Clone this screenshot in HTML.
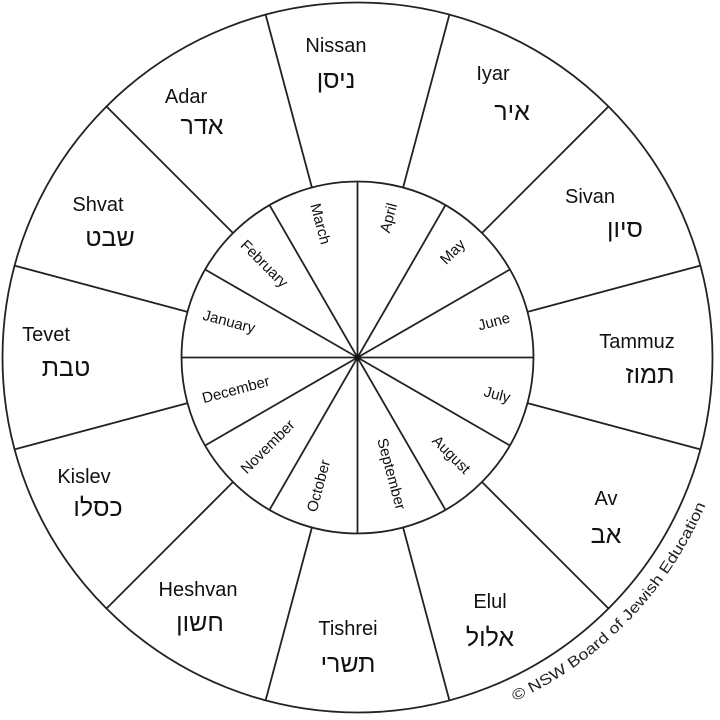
<!DOCTYPE html>
<html><head><meta charset="utf-8"><style>
html,body{margin:0;padding:0;background:#fff;}
svg{display:block}
.en{font-family:"Liberation Sans",sans-serif;font-size:20px;fill:#111;text-anchor:middle}
.he{font-family:"Liberation Sans","DejaVu Sans",sans-serif;font-size:25px;fill:#111;text-anchor:middle}
.m{font-family:"Liberation Sans",sans-serif;font-size:15px;fill:#111;text-anchor:middle;dominant-baseline:central}
</style></head><body>
<svg width="720" height="720" viewBox="0 0 720 720" xmlns="http://www.w3.org/2000/svg">
<g stroke="#222" stroke-width="1.8" fill="none">
<circle cx="357.5" cy="357.5" r="355"/>
<circle cx="357.5" cy="357.5" r="176"/>
<line x1="357.5" y1="181.5" x2="357.5" y2="533.5"/>
<line x1="181.5" y1="357.5" x2="533.5" y2="357.5"/>
<line x1="269.5" y1="205.1" x2="445.5" y2="509.9"/>
<line x1="445.5" y1="205.1" x2="269.5" y2="509.9"/>
<line x1="205.1" y1="269.5" x2="509.9" y2="445.5"/>
<line x1="509.9" y1="269.5" x2="205.1" y2="445.5"/>
<line x1="403.1" y1="187.5" x2="449.4" y2="14.6"/>
<line x1="311.9" y1="187.5" x2="265.6" y2="14.6"/>
<line x1="403.1" y1="527.5" x2="449.4" y2="700.4"/>
<line x1="311.9" y1="527.5" x2="265.6" y2="700.4"/>
<line x1="527.5" y1="311.9" x2="700.4" y2="265.6"/>
<line x1="527.5" y1="403.1" x2="700.4" y2="449.4"/>
<line x1="187.5" y1="311.9" x2="14.6" y2="265.6"/>
<line x1="187.5" y1="403.1" x2="14.6" y2="449.4"/>
<line x1="482.0" y1="233.0" x2="608.5" y2="106.5"/>
<line x1="233.0" y1="233.0" x2="106.5" y2="106.5"/>
<line x1="482.0" y1="482.0" x2="608.5" y2="608.5"/>
<line x1="233.0" y1="482.0" x2="106.5" y2="608.5"/>
</g>
<circle cx="357.5" cy="357.5" r="3" fill="#111"/>
<text class="en" x="336" y="52">Nissan</text><text class="he" x="336" y="88">ניסן</text>
<text class="en" x="493" y="80">Iyar</text><text class="he" x="512" y="120">איר</text>
<text class="en" x="590" y="203">Sivan</text><text class="he" x="625" y="237">סיון</text>
<text class="en" x="637" y="348">Tammuz</text><text class="he" x="650" y="383">תמוז</text>
<text class="en" x="606" y="505">Av</text><text class="he" x="606" y="543">אב</text>
<text class="en" x="490" y="608">Elul</text><text class="he" x="490" y="646">אלול</text>
<text class="en" x="348" y="635">Tishrei</text><text class="he" x="348" y="672">תשרי</text>
<text class="en" x="198" y="596">Heshvan</text><text class="he" x="200" y="631">חשון</text>
<text class="en" x="84" y="483">Kislev</text><text class="he" x="98" y="516">כסלו</text>
<text class="en" x="46" y="341">Tevet</text><text class="he" x="66" y="376">טבת</text>
<text class="en" x="98" y="211">Shvat</text><text class="he" x="110" y="246">שבט</text>
<text class="en" x="186" y="103">Adar</text><text class="he" x="202" y="134">אדר</text>
<text class="m" transform="translate(320,224) rotate(75)">March</text>
<text class="m" transform="translate(389,218) rotate(-75)">April</text>
<text class="m" transform="translate(453,252) rotate(-45)">May</text>
<text class="m" transform="translate(494,322) rotate(-15)">June</text>
<text class="m" transform="translate(497,395) rotate(15)">July</text>
<text class="m" transform="translate(451,455) rotate(45)">August</text>
<text class="m" transform="translate(391,474) rotate(75)">September</text>
<text class="m" transform="translate(319,486) rotate(-75)">October</text>
<text class="m" transform="translate(268,447) rotate(-45)">November</text>
<text class="m" transform="translate(236,390) rotate(-15)">December</text>
<text class="m" transform="translate(229,322) rotate(15)">January</text>
<text class="m" transform="translate(264,264) rotate(45)">February</text>
<defs><path id="arc" d="M 511.3 702.8 A 378 378 0 0 0 717.0 474.3"/></defs>
<text font-family="Liberation Sans,sans-serif" font-size="15" fill="#222"><textPath href="#arc" startOffset="4" textLength="280" lengthAdjust="spacingAndGlyphs">© NSW Board of Jewish Education</textPath></text>
</svg>
</body></html>
